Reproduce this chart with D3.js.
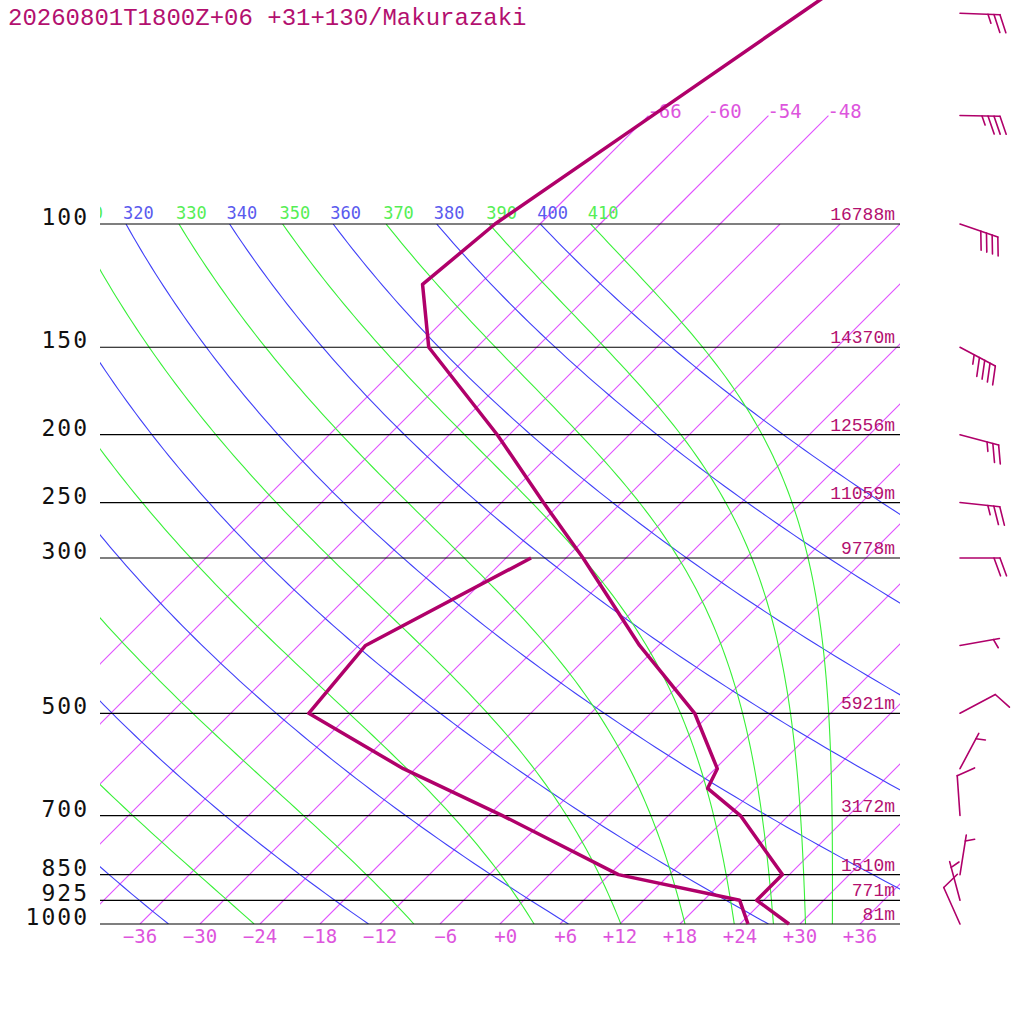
<!DOCTYPE html>
<html>
<head>
<meta charset="utf-8">
<script src="https://cdn.jsdelivr.net/npm/d3@7/dist/d3.min.js"></script>
<style>
  body { margin: 0; background: #fff; }
</style>
</head>
<body>
<script>
// ---- data ----
const title = "20260801T1800Z+06 +31+130/Makurazaki";

const levels  = [100, 150, 200, 250, 300, 500, 700, 850, 925, 1000];
const heights = ["16788m", "14370m", "12556m", "11059m", "9778m", "5921m", "3172m", "1510m", "771m", "81m"];

const isotherms      = [-66, -60, -54, -48, -42, -36, -30, -24, -18, -12, -6, 0, 6, 12, 18, 24, 30, 36];
const upperIsotherms = [-66, -60, -54, -48];
const bottomTicks    = [-36, -30, -24, -18, -12, -6, 0, 6, 12, 18, 24, 30, 36];
const thetas  = [240, 260, 280, 300, 320, 340, 360, 380, 400];
const thetaEs = [250, 270, 290, 310, 330, 350, 370, 390, 410];

const tempP = [1000, 925, 850, 700, 640, 600, 500, 400, 300, 250, 200, 150, 122, 100, 70, 50, 30];
const tempT = [28.9, 23.3, 23.3, 13.2, 7.2, 6.2, -1.6, -13.9, -28.3, -37.8, -49.2, -64.8, -71.7, -70.5, -65.6, -61.0, -54.1];

const dewP = [1000, 925, 850, 700, 600, 500, 400, 300];
const dewT = [24.8, 21.6, 6.9, -10.6, -25.2, -40.2, -41.3, -33.5];

const windP   = [50, 70, 100, 150, 200, 250, 300, 400, 500, 600, 700, 850, 925, 1000];
const windDir = [92, 91, 109, 118, 105, 96, 90, 80, 62, 28, 356, 9, 345, 336];
const windKt  = [25, 35, 40, 45, 25, 25, 20, 5, 10, 5, 10, 5, 5, 10];

// ---- layout ----
const W = 1024, H = 1024;
const plotL = 100, plotR = 900, plotT = 224, plotB = 924;
const profileColor = "#b0006a";
const textColor = "#b3106f";
const isoColor = "#e050ff";

const svg = d3.select("body").append("svg")
    .attr("width", W)
    .attr("height", H)
    .style("background", "#fff");

const y = d3.scaleLog().domain([1000, 100]).range([plotB, plotT]);
const x = d3.scaleLinear().domain([-40, 40]).range([plotL, plotR]);
const skewX = (t, p) => x(t) + (y(1000) - y(p));

const defs = svg.append("defs");
defs.append("clipPath").attr("id", "plot")
    .append("rect").attr("x", plotL).attr("y", plotT).attr("width", plotR - plotL).attr("height", plotB - plotT);
defs.append("clipPath").attr("id", "labels")
    .append("rect").attr("x", plotL).attr("y", 0).attr("width", W - plotL).attr("height", plotB);

// thermodynamics for the background lines
const kappa = 0.2857;
const esat = tk => 6.112 * Math.exp(17.67 * (tk - 273.15) / (tk - 273.15 + 243.5));
function thetaE(tk, p) {
  const es = esat(tk);
  const r = 622 * es / (p - es);
  return tk * Math.pow(1000 / p, 0.2854 * (1 - 0.00028 * r)) *
         Math.exp((3.376 / tk - 0.00254) * r * (1 + 0.00081 * r));
}
function moistT(te, p) {
  let lo = 120, hi = 330;
  while (esat(hi) > p * 0.4) hi -= 1;
  for (let i = 0; i < 50; i++) {
    const mid = (lo + hi) / 2;
    if (thetaE(mid, p) > te) hi = mid; else lo = mid;
  }
  return (lo + hi) / 2 - 273.15;
}
const dryT = (th, p) => th * Math.pow(p / 1000, kappa) - 273.15;

const samplePs = [];
for (let lp = Math.log(1000); lp >= Math.log(100) - 1e-9; lp -= 0.02) samplePs.push(Math.exp(lp));
samplePs.push(100);

const line = d3.line().x(d => skewX(d.t, d.p)).y(d => y(d.p));

const bg = svg.append("g").attr("clip-path", "url(#plot)");

// isotherms
bg.append("g").selectAll("line").data(isotherms).join("line")
    .attr("x1", t => skewX(t, 1000)).attr("y1", y(1000))
    .attr("x2", t => skewX(t, 100)).attr("y2", y(100))
    .attr("stroke", isoColor)
    .attr("stroke-width", 1.1);

// dry adiabats
bg.append("g").selectAll("path").data(thetas).join("path")
    .attr("d", th => line(samplePs.map(p => ({t: dryT(th, p), p}))))
    .attr("fill", "none")
    .attr("stroke", "#4040f8")
    .attr("stroke-width", 1.1);

// moist adiabats
bg.append("g").selectAll("path").data(thetaEs).join("path")
    .attr("d", te => line(samplePs.map(p => ({t: moistT(te, p), p}))))
    .attr("fill", "none")
    .attr("stroke", "#38f038")
    .attr("stroke-width", 1.1);

// isotherms extended above 100 hPa
svg.append("g").selectAll("line").data(upperIsotherms).join("line")
    .attr("x1", t => skewX(t, 100)).attr("y1", y(100))
    .attr("x2", t => skewX(t, 70)).attr("y2", y(70))
    .attr("stroke", isoColor)
    .attr("stroke-width", 1.1);

svg.append("g").selectAll("text").data(upperIsotherms).join("text")
    .attr("x", t => skewX(t, 70) - 1)
    .attr("y", y(70) + 2)
    .attr("font-family", "DejaVu Sans Mono")
    .attr("font-size", 19)
    .attr("fill", "#dd55dd")
    .text(t => String(t));

// pressure lines
svg.append("g").selectAll("line").data(levels).join("line")
    .attr("x1", plotL).attr("x2", plotR)
    .attr("y1", p => y(p)).attr("y2", p => y(p))
    .attr("stroke", "#000").attr("stroke-width", 1.2);

// pressure labels
svg.append("g").selectAll("text").data(levels).join("text")
    .attr("x", 89).attr("y", p => y(p) + 1)
    .attr("text-anchor", "end")
    .attr("font-family", "DejaVu Sans Mono")
    .attr("font-size", 23)
    .attr("letter-spacing", 2)
    .attr("fill", "#111")
    .text(p => p);

// height labels
svg.append("g").selectAll("text").data(levels).join("text")
    .attr("x", 895).attr("y", p => y(p) - 4)
    .attr("text-anchor", "end")
    .attr("font-family", "Liberation Mono")
    .attr("font-size", 18)
    .attr("fill", textColor)
    .text((p, i) => heights[i]);

// bottom temperature labels (3-char padded, centred)
const cw = 19 * 0.602;
svg.append("g").selectAll("text").data(bottomTicks).join("text")
    .attr("x", t => x(t) + 1.5 * cw)
    .attr("y", 943)
    .attr("text-anchor", "end")
    .attr("font-family", "DejaVu Sans Mono")
    .attr("font-size", 19)
    .attr("fill", "#dd55dd")
    .text(t => (t === 0 ? "+0" : d3.format("+")(t)));

// theta / theta-e labels at 100 hPa (only those reaching into the plot)
const lab = svg.append("g").attr("clip-path", "url(#labels)")
    .attr("font-family", "DejaVu Sans Mono").attr("font-size", 17);
const thetaLab = thetas.map(th => ({v: th, x: skewX(dryT(th, 100), 100) - 3, c: "#5a5aee"}));
const thetaELab = thetaEs.map(te => ({v: te, x: skewX(moistT(te, 100), 100) - 3, c: "#55ee55"}));
lab.selectAll("text").data(thetaLab.concat(thetaELab).filter(d => d.x > 60)).join("text")
    .attr("x", d => d.x)
    .attr("y", plotT - 5)
    .attr("fill", d => d.c)
    .text(d => d.v);

// profiles
const temp = tempP.map((p, i) => ({p, t: tempT[i]}));
const dew = dewP.map((p, i) => ({p, t: dewT[i]}));
svg.append("path").attr("d", line(dew))
    .attr("fill", "none").attr("stroke", profileColor)
    .attr("stroke-width", 3.5).attr("stroke-linejoin", "round");
svg.append("path").attr("d", line(temp))
    .attr("fill", "none").attr("stroke", profileColor)
    .attr("stroke-width", 3.5).attr("stroke-linejoin", "round");

// wind barbs
const bx = 960, staff = 40, longB = 19, gap = 6, rot = 70 * Math.PI / 180;
const barbs = svg.append("g")
    .attr("stroke", profileColor).attr("stroke-width", 1.6)
    .attr("fill", "none").attr("stroke-linecap", "round");
windP.forEach((p, i) => {
  const a = windDir[i] * Math.PI / 180;
  const ux = Math.sin(a), uy = -Math.cos(a);
  const vx = ux * Math.cos(rot) - uy * Math.sin(rot);
  const vy = ux * Math.sin(rot) + uy * Math.cos(rot);
  const x0 = bx, y0 = y(p);
  const tx = x0 + ux * staff, ty = y0 + uy * staff;
  const g = barbs.append("g");
  g.append("line").attr("x1", x0).attr("y1", y0).attr("x2", tx).attr("y2", ty);
  let k = 0;
  const nLong = Math.floor(windKt[i] / 10);
  const half = (windKt[i] % 10) >= 5;
  if (nLong === 0 && half) k = 1;
  for (let j = 0; j < nLong; j++, k++) {
    const sx = tx - ux * gap * k, sy = ty - uy * gap * k;
    g.append("line").attr("x1", sx).attr("y1", sy)
      .attr("x2", sx + vx * longB).attr("y2", sy + vy * longB);
  }
  if (half) {
    const sx = tx - ux * gap * k, sy = ty - uy * gap * k;
    g.append("line").attr("x1", sx).attr("y1", sy)
      .attr("x2", sx + vx * longB / 2).attr("y2", sy + vy * longB / 2);
  }
});

// title
svg.append("text")
    .attr("x", 8).attr("y", 25)
    .attr("font-family", "Liberation Mono")
    .attr("font-size", 24)
    .attr("fill", textColor)
    .text(title);
</script>
</body>
</html>
